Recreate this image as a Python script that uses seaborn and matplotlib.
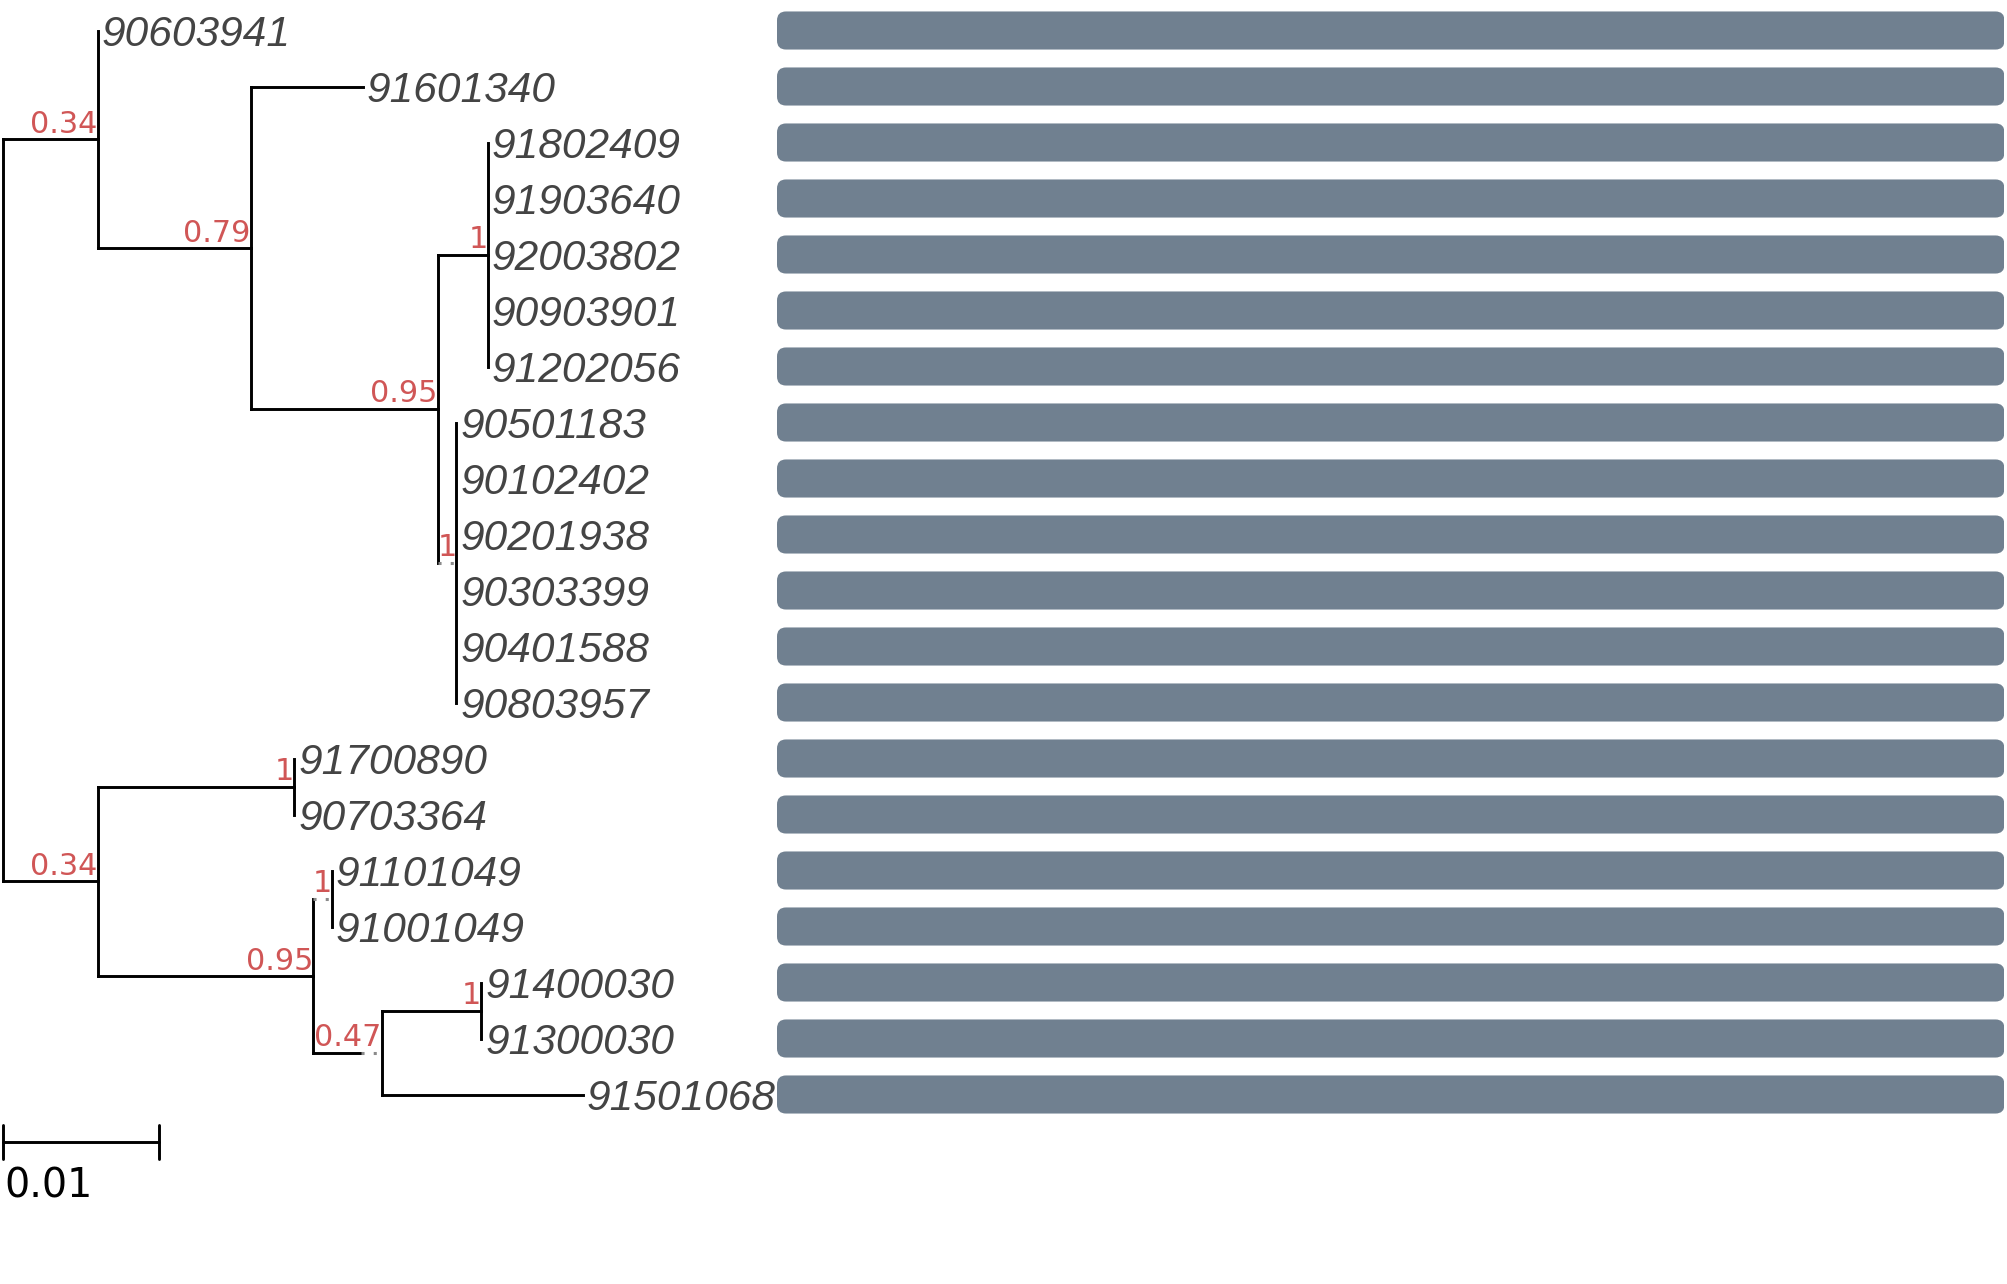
import matplotlib
matplotlib.use("Agg")
import matplotlib.pyplot as plt
from matplotlib.patches import FancyBboxPatch
import seaborn as sns

# ---------------- data ----------------
tips = ["90603941", "91601340", "91802409", "91903640", "92003802",
        "90903901", "91202056", "90501183", "90102402", "90201938",
        "90303399", "90401588", "90803957", "91700890", "90703364",
        "91101049", "91001049", "91400030", "91300030", "91501068"]

bar_values = [1.0, 1.0, 1.0, 1.0, 1.0, 1.0, 1.0, 1.0, 1.0, 1.0,
              1.0, 1.0, 1.0, 1.0, 1.0, 1.0, 1.0, 1.0, 1.0, 1.0]

# tree edges: child, parent, branch length
edge_child = ["A", "90603941", "B", "91601340", "C", "D",
              "91802409", "91903640", "92003802", "90903901", "91202056",
              "E", "90501183", "90102402", "90201938", "90303399", "90401588", "90803957",
              "F", "G", "91700890", "90703364", "H", "I", "91101049", "91001049",
              "J", "K", "91400030", "91300030", "91501068"]
edge_parent = ["root", "A", "A", "B", "B", "C",
               "D", "D", "D", "D", "D",
               "C", "E", "E", "E", "E", "E", "E",
               "root", "F", "G", "G", "F", "H", "I", "I",
               "H", "J", "K", "K", "J"]
edge_length = [0.0061, 0.0, 0.0098, 0.0072, 0.0120, 0.0032,
               0.0, 0.0, 0.0, 0.0, 0.0,
               0.0012, 0.0, 0.0, 0.0, 0.0, 0.0, 0.0,
               0.0061, 0.0126, 0.0, 0.0, 0.0138, 0.0012, 0.0, 0.0,
               0.0044, 0.0064, 0.0, 0.0, 0.0129]

support_nodes = ["A", "B", "C", "D", "E", "F", "G", "H", "I", "J", "K"]
support_values = ["0.34", "0.79", "0.95", "1", "1", "0.34", "1", "0.95", "1", "0.47", "1"]

scale_length = 0.01
scale_label = "0.01"

# ---------------- layout ----------------
sns.set_style("white")
plt.rcParams["font.family"] = ["DejaVu Sans"]

W, H = 2007, 1284
fig = plt.figure(figsize=(W / 100, H / 100), dpi=100)

px_per_unit = 15600.0
root_px = 2.5
row0_px = 30.5
row_px = 56.0
ylim = ((H - row0_px) / row_px, -row0_px / row_px)

ax = fig.add_axes([0, 0, 1, 1])
ax.set_xlim(-root_px / px_per_unit, (W - root_px) / px_per_unit)
ax.set_ylim(*ylim)
ax.axis("off")

children = {}
blen = {}
for c, p, l in zip(edge_child, edge_parent, edge_length):
    children.setdefault(p, []).append(c)
    blen[c] = l

xpos, ypos = {"root": 0.0}, {}


def layout(node):
    for c in children.get(node, []):
        xpos[c] = xpos[node] + blen[c]
        layout(c)
    if node in children:
        ys = [ypos[c] for c in children[node]]
        ypos[node] = (min(ys) + max(ys)) / 2.0
    else:
        ypos[node] = float(tips.index(node))


layout("root")

lw = 2.1
line_kw = dict(color="black", lw=lw, solid_capstyle="projecting")
dot_kw = dict(color="#8a8a8a", lw=2.2, linestyle=(0, (1, 3)))
dotted_branches = {"E": 1.0, "I": 1.0, "J": 0.3}

for node, kids in children.items():
    ys = [ypos[c] for c in kids]
    ax.plot([xpos[node], xpos[node]], [min(ys), max(ys)], **line_kw)
    for c in kids:
        x0, x1, y = xpos[node], xpos[c], ypos[c]
        frac = dotted_branches.get(c, 0.0)
        xm = x1 - frac * (x1 - x0)
        if xm > x0:
            ax.plot([x0, xm], [y, y], **line_kw)
        if frac > 0:
            ax.plot([xm, x1], [y, y], **dot_kw)

for n, s in zip(support_nodes, support_values):
    ax.text(xpos[n], ypos[n], s, ha="right", va="bottom",
            fontsize=21.8, color="#d05656", family="DejaVu Sans")

for t in tips:
    ax.annotate(t, (xpos[t], ypos[t]), xytext=(3, 0), textcoords="offset points",
                ha="left", va="center_baseline", fontsize=30.5, style="italic",
                color="#444444", family=["Liberation Sans", "DejaVu Sans"])

# scale bar
sb_y = 19.84
ax.plot([0, scale_length], [sb_y, sb_y], color="black", lw=lw)
for xx in (0, scale_length):
    ax.plot([xx, xx], [sb_y - 0.29, sb_y + 0.31], color="black", lw=lw)
ax.annotate(scale_label, (0, 20.29), xytext=(1.5, 0), textcoords="offset points",
            ha="left", va="top", fontsize=28.5, color="black", family="DejaVu Sans")

# ---------------- bars ----------------
bar_left, bar_right = 777.0, 2004.5
axb = fig.add_axes([bar_left / W, 0, (bar_right - bar_left) / W, 1])
sns.barplot(x=bar_values, y=tips, order=tips, orient="h", color="#708090",
            width=0.68, ax=axb, saturation=1)
axb.set_xlim(0, 1.0)
axb.set_ylim(*ylim)
axb.axis("off")

r_px = 9.0
r_x = r_px / (bar_right - bar_left)
r_y = r_px / row_px
for p in list(axb.patches):
    x0, y0, w, h = p.get_x(), p.get_y(), p.get_width(), p.get_height()
    p.remove()
    axb.add_patch(FancyBboxPatch((x0, y0), w, h,
                                 boxstyle=f"round,pad=0,rounding_size={r_x}",
                                 mutation_aspect=r_y / r_x,
                                 facecolor="#708090", edgecolor="none"))

fig.savefig("out.png", dpi=100, facecolor="white")
